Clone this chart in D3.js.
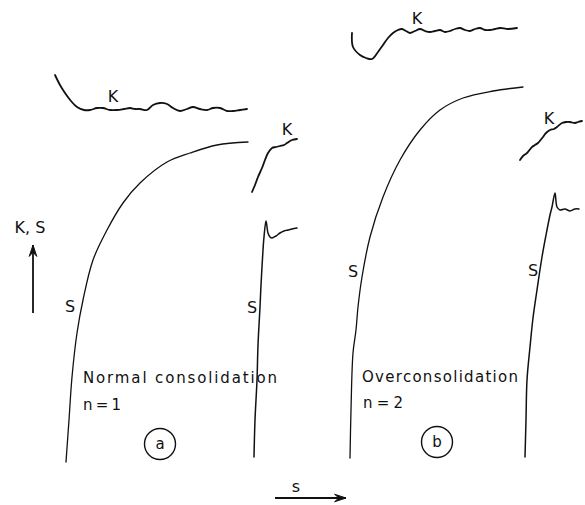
<!DOCTYPE html>
<html>
<head>
<meta charset="utf-8">
<script src="https://cdn.jsdelivr.net/npm/d3@7"></script>
<style>
  html, body { margin: 0; padding: 0; background: #fff; }
  svg { display: block; }
  text { font-family: "DejaVu Sans", sans-serif; fill: #111; }
</style>
</head>
<body>
<svg id="chart" width="585" height="505"></svg>
<script>
// ---- Data (figure units: s along x, K/S along y) ----
const panelA_S = [[66,462],[69,420],[72,377],[77,333],[83,300],[93,260],[107,230],[123,203],[140,183],[167,162],[190,153],[217,145],[248,142]];
const panelA_K = [[55,75],[60,85],[65,93],[71,101],[77,107],[84,110],[90,110],[97,108],[103,108],[110,110],[117,110],[124,109],[130,108],[135,109],[140,109],[147,110],[153,105],[160,103],[167,104],[173,108],[180,111],[187,109],[193,107],[200,109],[207,110],[213,108],[220,108],[227,111],[233,111],[240,110],[247,109]];
const panelA_Kshort = [[252,192],[255,185],[258,177],[262,168],[265,160],[268,153],[272,148],[276,147],[280,146],[284,145],[287,143],[292,140],[297,139]];
const panelA_Sshort = [[254,457],[255,420],[257,380],[258,345],[260,307],[261,285],[262,267],[263,250],[264,237],[266,221],[268,233],[270,237],[272,238],[276,236],[280,233],[284,231],[288,230],[292,229],[297,228]];

const panelB_S = [[350,458],[351,410],[353,353],[356,330],[358,307],[362,277],[370,237],[383,197],[400,160],[420,130],[440,110],[463,98],[493,91],[523,87]];
const panelB_K = [[352,33],[353,47],[360,55],[366,58],[372,59],[378,52],[383,45],[388,38],[393,33],[398,30],[402,29],[406,31],[410,33],[415,31],[420,29],[425,31],[430,32],[435,31],[440,30],[445,32],[450,31],[455,29],[460,28],[465,30],[470,31],[475,29],[480,28],[485,30],[490,30],[495,29],[500,28],[508,29],[517,28]];
const panelB_Kshort = [[520,160],[523,156],[527,153],[532,147],[535,145],[538,143],[543,137],[546,133],[550,130],[554,129],[557,127],[562,123],[566,122],[570,122],[575,123],[578,122],[582,121]];
const panelB_Sshort = [[525,457],[526,420],[527,380],[530,347],[533,318],[537,290],[542,257],[547,230],[550,215],[552,207],[555,193],[557,207],[560,210],[565,209],[570,211],[575,209],[579,209]];

const curveLabels = [
  {t:"K", x:113, y:102}, {t:"K", x:287, y:135},
  {t:"S", x:70, y:312},  {t:"S", x:252, y:313},
  {t:"K", x:417, y:24},  {t:"K", x:549, y:124},
  {t:"S", x:353, y:277}, {t:"S", x:533, y:276}
];
const captionLines = [
  {t:"Normal consolidation", x:83, y:383, w:194},
  {t:"n = 1", x:83, y:410, w:38},
  {t:"Overconsolidation", x:362, y:382, w:156},
  {t:"n = 2", x:363, y:408, w:40}
];
const panelMarks = [{t:"a", x:160, y:444}, {t:"b", x:437, y:442}];
const axisLabels = [{t:"K, S", x:30, y:233}, {t:"s", x:296, y:492}];
const axisArrows = [
  {from:[33,313], to:[33,245]},
  {from:[275,498], to:[346,498]}
];

// ---- Scales ----
const W = 585, H = 505;
const x = d3.scaleLinear().domain([0, 585]).range([0, W]);
const y = d3.scaleLinear().domain([0, 505]).range([0, H]);

const svg = d3.select("#chart");
const line = d3.line().x(d => x(d[0])).y(d => y(d[1])).curve(d3.curveCatmullRom.alpha(0.5));

const curves = [
  {d: panelA_S, w: 1.3}, {d: panelA_K, w: 1.8}, {d: panelA_Kshort, w: 1.8}, {d: panelA_Sshort, w: 1.5},
  {d: panelB_S, w: 1.3}, {d: panelB_K, w: 1.8}, {d: panelB_Kshort, w: 1.8}, {d: panelB_Sshort, w: 1.5}
];
svg.selectAll("path.curve").data(curves).join("path")
  .attr("class", "curve")
  .attr("d", c => line(c.d))
  .attr("fill", "none")
  .attr("stroke", "#111")
  .attr("stroke-width", c => c.w)
  .attr("stroke-linejoin", "round")
  .attr("stroke-linecap", "round");

// labels on curves
svg.selectAll("text.cl").data(curveLabels).join("text")
  .attr("class", "cl")
  .attr("x", d => x(d.x)).attr("y", d => y(d.y))
  .attr("text-anchor", "middle")
  .attr("font-size", 16)
  .text(d => d.t);

// captions
svg.selectAll("text.cap").data(captionLines).join("text")
  .attr("class", "cap")
  .attr("x", d => x(d.x)).attr("y", d => y(d.y))
  .attr("font-size", 15)
  .attr("textLength", d => d.w)
  .attr("lengthAdjust", "spacing")
  .text(d => d.t);

// circled panel marks
const pm = svg.selectAll("g.pm").data(panelMarks).join("g").attr("class", "pm");
pm.append("circle")
  .attr("cx", d => x(d.x)).attr("cy", d => y(d.y)).attr("r", 15.5)
  .attr("fill", "none").attr("stroke", "#111").attr("stroke-width", 1.4);
pm.append("text")
  .attr("x", d => x(d.x)).attr("y", d => y(d.y) + 5)
  .attr("text-anchor", "middle").attr("font-size", 15)
  .text(d => d.t);

// axis labels
svg.selectAll("text.al").data(axisLabels).join("text")
  .attr("class", "al")
  .attr("x", d => x(d.x)).attr("y", d => y(d.y))
  .attr("text-anchor", "middle").attr("font-size", 16)
  .text(d => d.t);

// arrows
const arrows = svg.selectAll("g.arrow").data(axisArrows).join("g").attr("class", "arrow");
arrows.append("line")
  .attr("x1", d => x(d.from[0])).attr("y1", d => y(d.from[1]))
  .attr("x2", d => x(d.to[0])).attr("y2", d => y(d.to[1]))
  .attr("stroke", "#111").attr("stroke-width", 1.8);
arrows.append("path")
  .attr("d", d => {
    const x1 = x(d.from[0]), y1 = y(d.from[1]), x2 = x(d.to[0]), y2 = y(d.to[1]);
    const a = Math.atan2(y2 - y1, x2 - x1);
    const L = 12, s = 0.32;
    const p1 = [x2 - L * Math.cos(a - s), y2 - L * Math.sin(a - s)];
    const p2 = [x2 - L * Math.cos(a + s), y2 - L * Math.sin(a + s)];
    const m = [x2 - 0.6 * L * Math.cos(a), y2 - 0.6 * L * Math.sin(a)];
    return `M${p1}L${x2},${y2}L${p2}L${m}Z`;
  })
  .attr("fill", "#111").attr("stroke", "#111").attr("stroke-width", 1);
</script>
</body>
</html>
